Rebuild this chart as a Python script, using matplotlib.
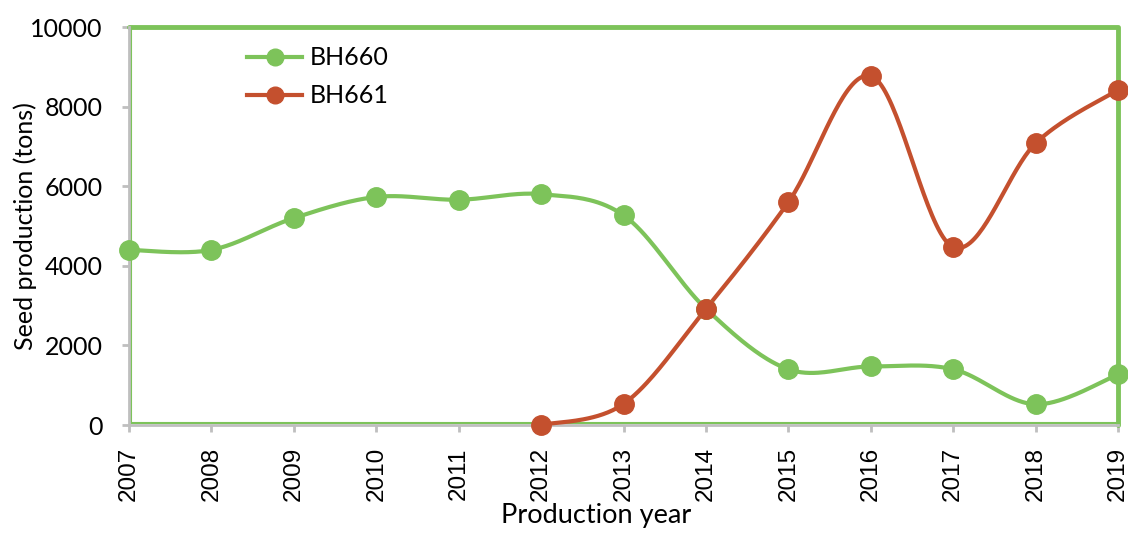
import numpy as np
import matplotlib.pyplot as plt

plt.rcParams['font.family'] = ['Lato', 'DejaVu Sans']

# Data (tons)
years = [2007, 2008, 2009, 2010, 2011, 2012, 2013, 2014, 2015, 2016, 2017, 2018, 2019]
bh660 = [4400, 4400, 5200, 5730, 5660, 5800, 5270, 2920, 1400, 1470, 1400, 520, 1270]
bh661_years = [2012, 2013, 2014, 2015, 2016, 2017, 2018, 2019]
bh661 = [0, 530, 2920, 5600, 8770, 4470, 7080, 8420]

green = '#7DC35A'
red = '#C4502E'
gray = '#BFBFBF'


def smooth(x, y, n=40):
    # Catmull-Rom style curve like Excel's "smoothed line"
    p = np.column_stack([x, y]).astype(float)
    out = []
    for i in range(len(p) - 1):
        p0 = p[i - 1] if i > 0 else p[i]
        p1, p2 = p[i], p[i + 1]
        p3 = p[i + 2] if i + 2 < len(p) else p[i + 1]
        c1 = p1 + (p2 - p0) / 6
        c2 = p2 - (p3 - p1) / 6
        t = np.linspace(0, 1, n)[:, None]
        seg = ((1 - t) ** 3) * p1 + 3 * ((1 - t) ** 2) * t * c1 + 3 * (1 - t) * t ** 2 * c2 + t ** 3 * p2
        out.append(seg if i == 0 else seg[1:])
    seg = np.vstack(out)
    return seg[:, 0], seg[:, 1]


fig = plt.figure(figsize=(11.28, 5.35), dpi=100)
ax = fig.add_axes([0.1144, 0.2056, 0.8768, 0.7439])

for xs, ys, c, lab in [(years, bh660, green, 'BH660'), (bh661_years, bh661, red, 'BH661')]:
    sx, sy = smooth(xs, ys)
    ax.plot(sx, sy, color=c, lw=3, clip_on=False, zorder=3)
    ax.plot(xs, ys, 'o', color=c, ms=14, clip_on=False, zorder=4)
    ax.plot([], [], '-o', color=c, lw=3, ms=12, label=lab)

ax.set_xlim(2007, 2019)
ax.set_ylim(0, 10000)
ax.set_xticks(years)
ax.set_xticklabels([str(y) for y in years], rotation=90, family='Liberation Sans', fontsize=17.5)
ax.set_yticks(range(0, 10001, 2000))
ax.tick_params(axis='both', color=gray, length=5, width=2, direction='out')
ax.tick_params(axis='y', labelsize=18, pad=14)
ax.tick_params(axis='x', pad=11)

for s in ['top', 'right']:
    ax.spines[s].set_visible(False)
for s in ['left', 'bottom']:
    ax.spines[s].set_color(gray)
    ax.spines[s].set_linewidth(2)

# green plot-area border
ax.plot([0, 1, 1], [1, 1, 0], transform=ax.transAxes, color=green, lw=3.5,
        clip_on=False, zorder=2, solid_capstyle='round')
ax.plot([0.002, 0.002, 1], [1, 0.004, 0.004], transform=ax.transAxes, color=green,
        lw=1.5, clip_on=False, zorder=2)

ax.set_xlabel('Production year', fontsize=19.5)
ax.xaxis.set_label_coords(0.472, -0.196)
ax.set_ylabel('Seed production (tons)', fontsize=18)
ax.yaxis.set_label_coords(-0.093, 0.5)

ax.legend(loc='upper left', bbox_to_anchor=(0.097, 1.008), frameon=False, fontsize=18,
          handlelength=2.2, handletextpad=0.3, labelspacing=0.6)

fig.savefig('out.png', dpi=100)
